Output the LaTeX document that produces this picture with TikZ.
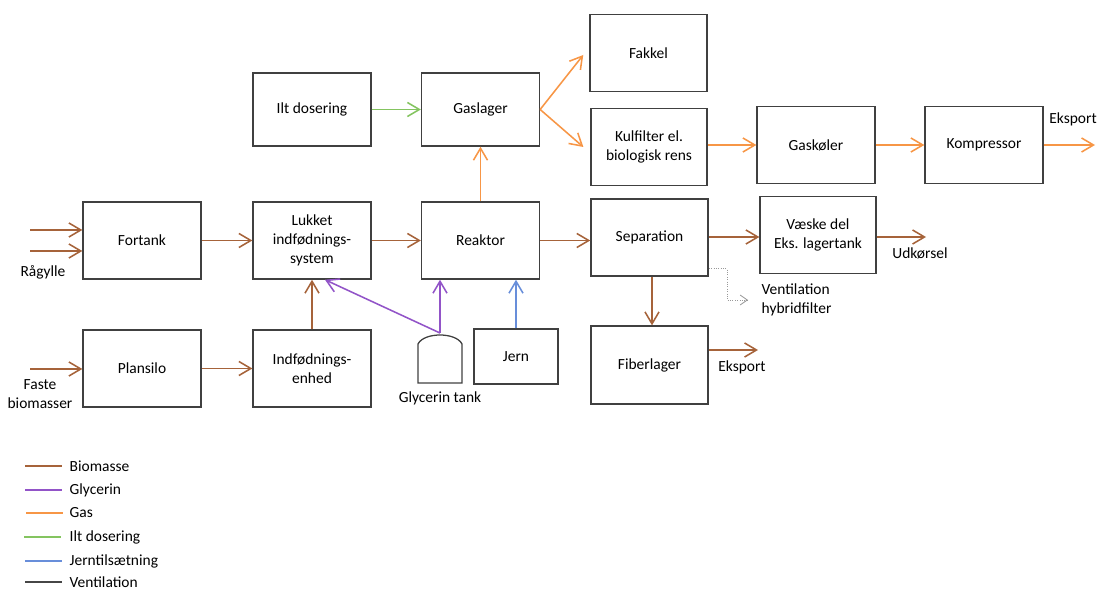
\documentclass[tikz,border=0pt]{standalone}
\usepackage{fontspec}
\setmainfont{Carlito}
\usepackage{xcolor}
\usetikzlibrary{positioning,arrows.meta,calc}

\definecolor{biobrown}{RGB}{166,99,58}
\definecolor{glycpurple}{RGB}{146,84,200}
\definecolor{gasorange}{RGB}{247,150,70}
\definecolor{iltgreen}{RGB}{132,196,96}
\definecolor{jernblue}{RGB}{104,142,218}
\definecolor{ventgray}{RGB}{70,70,70}

\begin{document}
\begin{tikzpicture}[
    x=0.025cm, y=-0.025cm,
    font=\fontsize{11}{13.5}\selectfont,
    box/.style={
        draw=black!75,
        line width=0.9pt,
        rectangle,
        minimum width=2.95cm,
        minimum height=1.93cm,
        align=center,
        inner sep=2pt
    },
    flow/.style={
        line width=1.1pt,
        -{Straight Barb[length=8.5pt,width=10pt,line width=1.1pt]}
    },
    bio/.style={flow, draw=biobrown},
    glyc/.style={flow, draw=glycpurple},
    gas/.style={flow, draw=gasorange},
    ilt/.style={flow, draw=iltgreen},
    jern/.style={flow, draw=jernblue},
    vent/.style={
        draw=gray!80, line width=0.7pt, densely dotted,
        -{Straight Barb[length=5pt,width=7pt,line width=0.6pt]}
    },
    legline/.style={line width=1.4pt},
    label/.style={align=center, inner sep=1pt}
]
\useasboundingbox (0,0) rectangle (1100,589);

% boxes
\node[box] (fortank) at (142,240.5) {Fortank};
\node[box] (plansilo) at (142,368.5) {Plansilo};
\node[box, minimum height=1.83cm] (ilt) at (312,109.5) {Ilt dosering};
\node[box, minimum height=1.83cm] (gaslager) at (480.5,109.5) {Gaslager};
\node[box] (lukket) at (312,240.5) {Lukket\\indfødnings-\\system};
\node[box] (reaktor) at (480.5,240.5) {Reaktor};
\node[box] (indf) at (312,368.5) {Indfødnings-\\enhed};
\node[box, minimum width=2.93cm] (fakkel) at (648.5,53) {Fakkel};
\node[box, minimum width=2.9cm] (kulfilter) at (649,147) {Kulfilter el.\\biologisk rens};
\node[box] (gaskoler) at (816,145) {Gaskøler};
\node[box] (kompressor) at (984,145) {Kompressor};
\node[box, minimum width=2.93cm] (separation) at (649.5,237.5) {Separation};
\node[box, minimum width=2.9cm] (vaeske) at (818,235) {Væske del\\Eks. lagertank};
\node[box, minimum width=2.93cm, minimum height=1.95cm] (fiber) at (649.5,365) {Fiberlager};
\node[box, minimum width=2.1cm, minimum height=1.38cm] (jern) at (516,356.5) {Jern};

% glycerin tank
\draw[black!75, line width=0.9pt] (418,383) -- (418,344)
    .. controls (424,332) and (456,332) .. (462,344) -- (462,383) -- cycle;
\coordinate (gtank) at (440,333);

% free ends
\coordinate (rag1) at (30,230);
\coordinate (rag2) at (30,251);
\coordinate (faste) at (30,369);
\coordinate (eksgas) at (1095,145);
\coordinate (udk) at (926,237);
\coordinate (eksfib) at (758,350);
\coordinate (ventbend) at (727,300);
\coordinate (ventend) at (748,300);

% labels
\node[label] (raglbl) at (43,272) {Rågylle};
\node[label] (fastelbl) at (40,394) {Faste\\biomasser};
\node[label] (glyclbl) at (440,398) {Glycerin tank};
\node[label, anchor=west, align=left] (ventlbl) at (760,300) {Ventilation\\hybridfilter};
\node[label] (udklbl) at (920,253) {Udkørsel};
\node[label] (eksfiblbl) at (742,367) {Eksport};
\node[label] (eksgaslbl) at (1073,119) {Eksport};

% biomasse
\draw[bio] (rag1) -- (rag1 -| fortank.west);
\draw[bio] (rag2) -- (rag2 -| fortank.west);
\draw[bio] (faste) -- (faste -| plansilo.west);
\draw[bio] (fortank) -- (lukket);
\draw[bio] (plansilo) -- (indf);
\draw[bio] (indf) -- (lukket);
\draw[bio] (lukket) -- (reaktor);
\draw[bio] (reaktor.east) -- (reaktor.east -| separation.west);
\draw[bio] ($(separation.east)+(0,-0.5)$) -- ($(vaeske.west)+(0,2)$);
\draw[bio] ($(vaeske.east)+(0,2)$) -- (udk);
\draw[bio] ($(separation.south)+(2.5,0)$) -- ($(fiber.north)+(2.5,0)$);
\draw[bio] (fiber.east |- eksfib) -- (eksfib);

% glycerin
\draw[glyc] (gtank) -- (gtank |- reaktor.south);
\draw[glyc] (gtank) -- ($(lukket.south)+(13,0)$);

% jern
\draw[jern] (jern.north) -- (jern.north |- reaktor.south);

% gas
\draw[gas] (reaktor) -- (gaslager);
\draw[gas] (gaslager.east) -- ($(fakkel.west)+(-6,2)$);
\draw[gas] (gaslager.east) -- ($(kulfilter.west)+(-7,0)$);
\draw[gas] ($(kulfilter.east)+(0,-2)$) -- (gaskoler.west);
\draw[gas] (gaskoler) -- (kompressor);
\draw[gas] (kompressor.east) -- (eksgas);

% ilt
\draw[ilt] (ilt) -- (gaslager);

% ventilation
\draw[vent] ($(separation.south east)+(0,-8)$) -| (ventbend) -- (ventend);

% legend
\draw[legline, biobrown] (25,466) coordinate (lbio) -- (62,466);
\node[label, anchor=west] (lbiotxt) at (68,466) {Biomasse};
\draw[legline, glycpurple] (25,490) coordinate (lglyc) -- (62,490);
\node[label, anchor=west] (lglyctxt) at (68,490) {Glycerin};
\draw[legline, gasorange] (26,513) coordinate (lgas) -- (63,513);
\node[label, anchor=west] (lgastxt) at (68,513) {Gas};
\draw[legline, iltgreen] (24,537) coordinate (lilt) -- (61,537);
\node[label, anchor=west] (lilttxt) at (68,537) {Ilt dosering};
\draw[legline, jernblue] (25,561) coordinate (ljern) -- (62,561);
\node[label, anchor=west] (ljerntxt) at (68,561) {Jerntilsætning};
\draw[legline, ventgray] (25,582) coordinate (lvent) -- (62,582);
\node[label, anchor=west] (lventtxt) at (68,582) {Ventilation};

\end{tikzpicture}
\end{document}
